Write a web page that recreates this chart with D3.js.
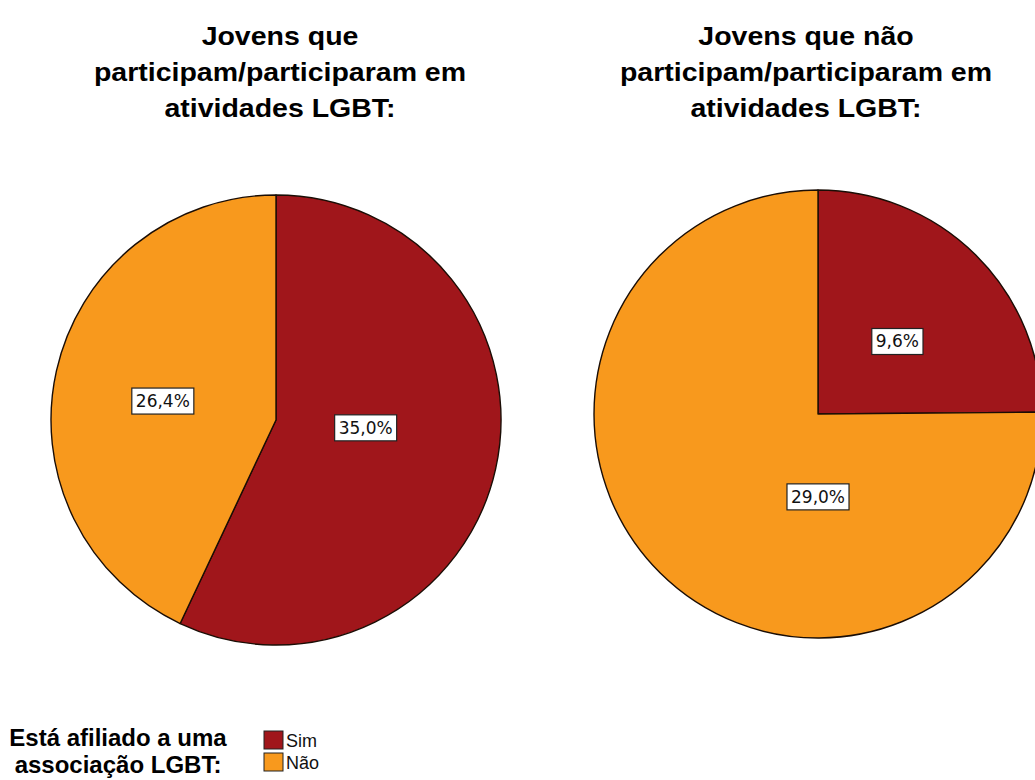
<!DOCTYPE html>
<html>
<head>
<meta charset="utf-8">
<script src="https://cdn.jsdelivr.net/npm/d3@7"></script>
<style>
  html, body { margin: 0; padding: 0; background: #fff; }
  svg { display: block; }
</style>
</head>
<body>
<svg id="chart" width="1035" height="780"></svg>
<script>
// ---- data ----
const titleLeft = ["Jovens que", "participam/participaram em", "atividades LGBT:"];
const titleRight = ["Jovens que não", "participam/participaram em", "atividades LGBT:"];
const categories = ["Sim", "Não"];
const valuesLeft = [35.0, 26.4];
const valuesRight = [9.6, 29.0];
const legendTitle = ["Está afiliado a uma", "associação LGBT:"];

// ---- layout / style ----
const W = 1035, H = 780;
const colors = d3.scaleOrdinal().domain(categories).range(["#a0161b", "#f8991d"]);
const fmt = v => d3.format(".1f")(v).replace(".", ",") + "%";

const panels = [
  { title: titleLeft, values: valuesLeft, cx: 276, cy: 420, r: 225, tx: 280,
    // label anchors: [angle in degrees clockwise from top, distance as fraction of radius]
    labelAnchors: [[95, 0.40], [279.5, 0.51]] },
  { title: titleRight, values: valuesRight, cx: 818, cy: 414, r: 224, tx: 806,
    labelAnchors: [[47.6, 0.48], [180, 0.37]] }
];

const svg = d3.select("#chart");

panels.forEach(p => {
  // title
  const t = svg.append("text")
    .attr("text-anchor", "middle")
    .attr("font-family", "Liberation Sans, Arial, sans-serif")
    .attr("font-weight", "bold")
    .attr("font-size", 25)
    .attr("fill", "#000")
    .attr("transform", `translate(${p.tx},0) scale(1.14,1)`);
  p.title.forEach((line, i) => {
    t.append("tspan").attr("x", 0).attr("y", 45 + i * 36).text(line);
  });

  const data = categories.map((c, i) => ({ cat: c, value: p.values[i] }));
  const pie = d3.pie().sort(null).value(d => d.value).startAngle(0).endAngle(2 * Math.PI);
  const arc = d3.arc().innerRadius(0).outerRadius(p.r);
  const arcs = pie(data);

  const g = svg.append("g").attr("transform", `translate(${p.cx},${p.cy})`);
  g.selectAll("path.slice")
    .data(arcs)
    .join("path")
    .attr("class", "slice")
    .attr("d", arc)
    .attr("fill", d => colors(d.data.cat))
    .attr("stroke", "#1a0d05")
    .attr("stroke-width", 1.4)
    .attr("stroke-linejoin", "round");

  // labels
  arcs.forEach((a, i) => {
    const [deg, frac] = p.labelAnchors[i];
    const ang = deg * Math.PI / 180;
    const x = Math.sin(ang) * frac * p.r;
    const y = -Math.cos(ang) * frac * p.r;
    const lg = g.append("g").attr("transform", `translate(${x},${y})`);
    const txt = lg.append("text")
      .attr("text-anchor", "middle")
      .attr("dominant-baseline", "central")
      .attr("font-family", "DejaVu Sans, sans-serif")
      .attr("font-size", 17)
      .attr("fill", "#111")
      .text(fmt(a.data.value));
    const bb = txt.node().getBBox();
    lg.insert("rect", "text")
      .attr("x", bb.x - 4)
      .attr("y", -13)
      .attr("width", bb.width + 8)
      .attr("height", 26)
      .attr("fill", "#fff")
      .attr("stroke", "#222")
      .attr("stroke-width", 1.2);
  });
});

// legend
const lt = svg.append("text")
  .attr("text-anchor", "middle")
  .attr("font-family", "Liberation Sans, Arial, sans-serif")
  .attr("font-weight", "bold")
  .attr("font-size", 24)
  .attr("fill", "#000");
legendTitle.forEach((line, i) => {
  lt.append("tspan").attr("x", 118).attr("y", 746 + i * 27).text(line);
});

const leg = svg.append("g").attr("transform", "translate(264,731)");
categories.forEach((c, i) => {
  const row = leg.append("g").attr("transform", `translate(0,${i * 22})`);
  row.append("rect")
    .attr("x", 0).attr("y", 0).attr("width", 19).attr("height", 18)
    .attr("fill", colors(c))
    .attr("stroke", "#222").attr("stroke-width", 1);
  row.append("text")
    .attr("x", 22).attr("y", 16)
    .attr("font-family", "Liberation Sans, Arial, sans-serif")
    .attr("font-size", 18)
    .attr("fill", "#111")
    .text(c);
});
</script>
</body>
</html>
